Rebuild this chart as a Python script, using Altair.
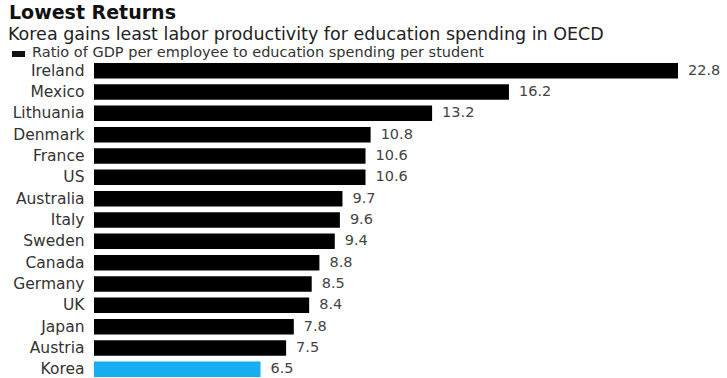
import altair as alt
import pandas as pd

countries = ["Ireland", "Mexico", "Lithuania", "Denmark", "France", "US", "Australia",
             "Italy", "Sweden", "Canada", "Germany", "UK", "Japan", "Austria", "Korea"]
values = [22.8, 16.2, 13.2, 10.8, 10.6, 10.6, 9.7, 9.6, 9.4, 8.8, 8.5, 8.4, 7.8, 7.5, 6.5]
value_labels = ["22.8", "16.2", "13.2", "10.8", "10.6", "10.6", "9.7", "9.6", "9.4",
                "8.8", "8.5", "8.4", "7.8", "7.5", "6.5"]

title_text = "Lowest Returns"
subtitle_text = "Korea gains least labor productivity for education spending in OECD"
legend_text = "Ratio of GDP per employee to education spending per student"

FONT = "DejaVu Sans"
BLUE = "#16AEF0"

df = pd.DataFrame({"country": countries, "value": values, "label": value_labels})

x_enc = alt.X("value:Q", scale=alt.Scale(domain=[0, 22.8], nice=False, zero=True), axis=None)
y_enc = alt.Y("country:N", sort=countries,
              scale=alt.Scale(paddingInner=0.27, paddingOuter=0.135),
              axis=alt.Axis(title=None, ticks=False, domain=False, labelPadding=10,
                            labelFont=FONT, labelFontSize=15.5, labelColor="#333333"))

bars = alt.Chart(df).mark_bar().encode(
    x=x_enc,
    y=y_enc,
    color=alt.when(alt.datum.country == "Korea").then(alt.value(BLUE)).otherwise(alt.value("#000000")),
)

labels = alt.Chart(df).mark_text(align="left", baseline="middle", dx=10,
                                 font=FONT, fontSize=14.5, color="#444444").encode(
    x=x_enc, y=y_enc, text="label:N")

head = pd.DataFrame({"t": [title_text]})
sub = pd.DataFrame({"t": [subtitle_text]})
leg = pd.DataFrame({"t": [legend_text]})

title_mark = alt.Chart(head).mark_text(align="left", baseline="alphabetic", font=FONT,
                                       fontSize=19, fontWeight="bold", color="#111111").encode(
    x=alt.value(-85), y=alt.value(-41.5), text="t:N")
sub_mark = alt.Chart(sub).mark_text(align="left", baseline="alphabetic", font=FONT,
                                    fontSize=17.5, color="#222222").encode(
    x=alt.value(-86), y=alt.value(-20.5), text="t:N")
leg_mark = alt.Chart(leg).mark_text(align="left", baseline="alphabetic", font=FONT,
                                    fontSize=14.5, color="#333333").encode(
    x=alt.value(-62), y=alt.value(-3), text="t:N")
leg_rect = alt.Chart(leg).mark_rect(color="#111111").encode(
    x=alt.value(-82), x2=alt.value(-69), y=alt.value(-9), y2=alt.value(-3))

chart = alt.layer(bars, labels, title_mark, sub_mark, leg_mark, leg_rect).properties(
    width=584, height=320,
    autosize=alt.AutoSizeParams(type="none"),
    padding={"left": 94, "top": 60, "right": 49, "bottom": 0},
    background="white",
).configure_view(stroke="transparent")

chart.save("out.html", embed_options={"renderer": "svg", "actions": False})
